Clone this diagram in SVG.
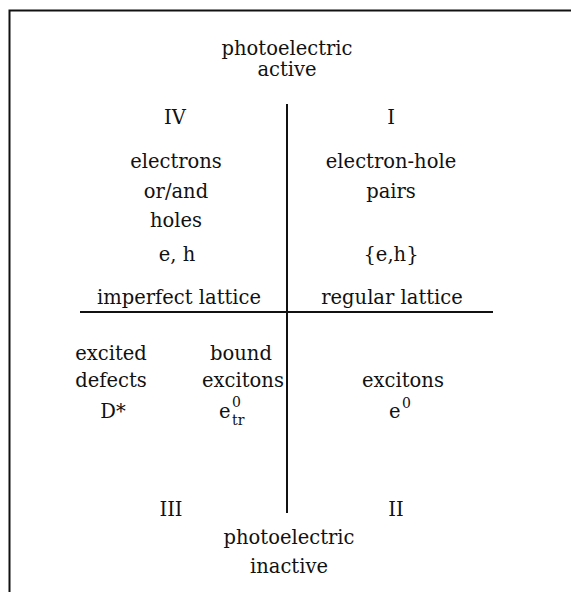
<svg xmlns="http://www.w3.org/2000/svg" width="571" height="592" viewBox="0 0 571 592">
<style>
text{font-family:"DejaVu Serif","Liberation Serif",serif;font-size:19.5px;fill:#111;text-anchor:middle}
.ln{stroke:#111;stroke-width:2;fill:none}
.sm{font-size:14px;text-anchor:start}
.st{text-anchor:start}
</style>
<rect width="571" height="592" fill="#fff"/>
<g id="connectors">
<path class="ln" d="M9.5,592 V10.5 H571"/>
<line class="ln" x1="287" y1="104" x2="287" y2="513"/>
<line class="ln" x1="80" y1="312" x2="493" y2="312"/>
</g>
<g id="top"><text x="287" y="55">photoelectric</text><text x="287" y="76">active</text></g>
<g id="q4">
<text x="175" y="124">IV</text>
<text x="176" y="168">electrons</text>
<text x="176" y="198">or/and</text>
<text x="176" y="227">holes</text>
<text x="177" y="261">e, h</text>
<text x="179" y="304">imperfect lattice</text>
</g>
<g id="q1">
<text x="391" y="124">I</text>
<text x="391" y="168">electron-hole</text>
<text x="391" y="198">pairs</text>
<text x="391" y="261">{e,h}</text>
<text x="392" y="304">regular lattice</text>
</g>
<g id="q3">
<text x="111" y="360">excited</text>
<text x="111" y="387">defects</text>
<text x="113" y="418">D*</text>
<text x="241" y="360">bound</text>
<text x="243" y="387">excitons</text>
<text class="st" x="219" y="418">e</text>
<text class="sm" x="232" y="407">0</text>
<text class="sm" x="232" y="425">tr</text>
<text x="171" y="516">III</text>
</g>
<g id="q2">
<text x="403" y="387">excitons</text>
<text class="st" x="389" y="418">e</text>
<text class="sm" x="402" y="408">0</text>
<text x="396" y="516">II</text>
</g>
<g id="bottom"><text x="289" y="544">photoelectric</text><text x="289" y="573">inactive</text></g>
</svg>
